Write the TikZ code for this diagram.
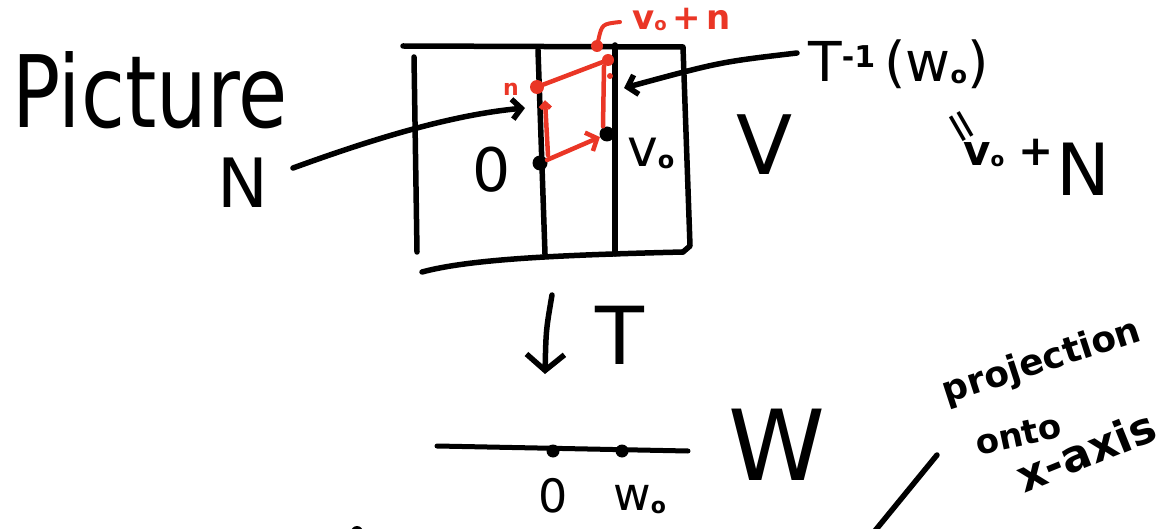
\documentclass[tikz,border=0pt]{standalone}
\usepackage{fontspec}
\setmainfont{DejaVu Sans}
\usetikzlibrary{arrows.meta}
\definecolor{penred}{RGB}{234,54,38}
\newcommand\penfont[1]{\fontsize{#1}{#1}\selectfont}
% a small hand-written style index, dropped below the baseline
\newcommand\lowidx[3]{\raisebox{-#2}{\penfont{#1}#3}}
\begin{document}
\begin{tikzpicture}[x=1pt,y=-1pt,
  ink/.style={line width=5.5pt, line cap=round, line join=round},
  redink/.style={ink, draw=penred, line width=4.5pt},
  barb/.style={-{Straight Barb[length=9pt,width=20pt]}},
  lbl/.style={inner sep=0pt, anchor=base},
  txt/.style={inner sep=0pt},
  dot/.style={circle, fill=black, minimum size=15pt, inner sep=0pt},
  reddot/.style={circle, fill=penred, minimum size=14pt, inner sep=0pt}]
\useasboundingbox (0,0) rectangle (1167,529);

% ---- the space V: a box cut into strips
\draw[ink] (403,46) -- (683,47) -- (690,246) -- (683,252);
\draw[ink] (683,252) .. controls (560,255) and (470,259) .. (422,272);
\draw[ink] (414,57) -- (417,252);
\draw[ink] (538,50) -- (545,254);
\draw[ink] (615,45) -- (615,254);

% points of V
\node[dot] (zero) at (540,163) {};
\node[dot] (vzero) at (607,134) {};
\node[reddot] (nvec) at (537,87) {};
\node[reddot, minimum size=12pt] (vn) at (608,60) {};
\node[reddot, minimum size=6pt] (speck) at (610,76) {};
\node[reddot, minimum size=12pt] (topdot) at (597,46) {};

% red parallelogram: 0 -> n, 0 -> v0, n -> v0+n -> v0
\draw[redink, -{Straight Barb[length=5pt,width=10pt]}] ([xshift=8pt]zero.north) -- ([xshift=8pt,yshift=-6pt]nvec.south);
\draw[redink, barb] (zero) -- (vzero);
\draw[redink] (nvec) -- (vn);
\draw[redink] ([xshift=-4pt]vn.south) -- ([xshift=-4pt]vzero.north);

% labels inside V
\node[txt] (zeroV) at (492,170) {\penfont{60}0};
\node[lbl, anchor=base west] (v0lbl) at (627,167) {\penfont{52}v\lowidx{24}{2pt}{\bfseries o}};
\node[txt, text=penred] (nlbl) at (511,89) {\penfont{22}\bfseries n};
\node[lbl, anchor=base west, text=penred] (vnlbl) at (632,30) {\penfont{34}\bfseries v\lowidx{18}{1pt}{o}\,+\,n};
\coordinate (leadStart) at (620,22);
\draw[redink, line width=4pt] (leadStart) .. controls (602,24) .. (topdot);

% titles
\node[lbl, anchor=base west] (pic) at (12,128) {\penfont{100}\scalebox{0.8}[1]{Picture}};
\node[lbl] (Nlbl) at (243,208) {\penfont{68}N};
\node[lbl] (Vbig) at (765,175) {\penfont{82}V};

% N points at the strip through 0
\coordinate (nTip) at (525,108);
\draw[ink, barb] (293,168) .. controls (370,140) and (450,115) .. (nTip);

% the fibre over w0
\node[lbl, anchor=base west] (Tinv) at (808,82) {\penfont{55}T\raisebox{14pt}{\penfont{30}\bfseries -1}\,(w\lowidx{24}{2pt}{\bfseries o})};
\coordinate (tinvStart) at (797,53);
\coordinate (tinvTip) at (624,88);
\draw[ink, barb] (tinvStart) .. controls (720,62) .. (tinvTip);
\node[txt, rotate=-60] (eqs) at (958,128) {\penfont{44}=};
\node[lbl, anchor=base west] (v0plus) at (963,166) {\penfont{42}\bfseries v\lowidx{20}{1pt}{o}\hspace{14pt}+};
\node[lbl] (Nsum) at (1083,196) {\penfont{72}N};

% the map T
\coordinate (tTop) at (552,295);
\coordinate (tBot) at (545,374);
\draw[ink, -{Straight Barb[length=16pt,width=38pt]}] (tTop) .. controls (546,330) .. (tBot);
\node[txt] (Tlbl) at (620,335) {\penfont{80}T};

% the line W
\coordinate (axL) at (437,446);
\coordinate (axR) at (688,451);
\draw[ink, line width=5pt] (axL) -- (axR);
\node[dot, minimum size=13pt] (wzero) at (553,451) {};
\node[dot, minimum size=13pt] (wpt) at (622,451) {};
\node[txt] (zeroW) at (553,496) {\penfont{46}0};
\node[lbl, anchor=base west] (w0lbl) at (613,510) {\penfont{46}w\lowidx{22}{3pt}{\bfseries o}};
\node[lbl] (Wbig) at (777,480) {\penfont{98}W};

% note on the map
\node[lbl, rotate=18] (proj) at (1045,372) {\penfont{36}\bfseries projection};
\node[lbl, rotate=12] (onto) at (1021,446) {\penfont{34}\bfseries onto};
\node[lbl, rotate=22] (xaxis) at (1092,466) {\penfont{44}\bfseries x-axis};
\coordinate (slashA) at (937,455);
\coordinate (slashB) at (874,532);
\draw[ink] (slashA) -- (slashB);
\node[dot, minimum size=12pt] (blob) at (357,532) {};
\end{tikzpicture}
\end{document}
